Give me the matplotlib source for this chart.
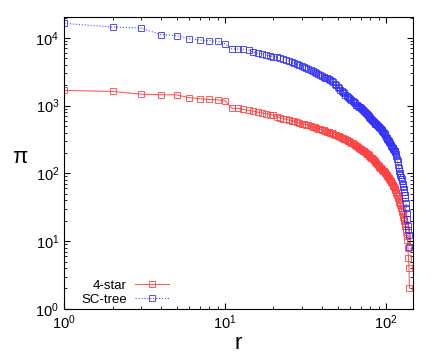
import matplotlib
matplotlib.use("Agg")
import matplotlib.pyplot as plt
import numpy as np

plt.rcParams['font.family'] = ['Liberation Sans', 'DejaVu Sans']
plt.rcParams['mathtext.fontset'] = 'custom'
plt.rcParams['mathtext.rm'] = 'Liberation Sans'
plt.rcParams['mathtext.it'] = 'Liberation Sans:italic'

star4 = [1680, 1620, 1480, 1450, 1440, 1310, 1260, 1240, 1220, 1190, 920, 910, 880, 850, 830,
         800, 780, 760, 740, 720, 690, 660,
         645, 630, 615, 600, 585, 570, 555,
         545, 535, 525, 515, 500, 490, 480, 470, 458, 445,
         437, 430, 423, 415, 405, 397, 390, 382, 375, 368, 360, 352, 345,
         338, 332, 325, 318, 311, 305, 298, 291, 284, 277, 270, 263, 257, 250, 243, 237, 230,
         226, 221, 216, 211, 206, 201, 196, 191, 186, 181, 176, 171, 166, 161, 156, 151, 146, 142, 138, 134, 130, 126, 122,
         119, 116, 113, 110, 107, 104, 101, 98, 95, 92, 89, 86, 83, 80, 77, 74, 71, 68, 65, 62, 60, 57,
         54, 51, 48, 46, 43, 41, 38, 36, 34, 31, 29, 27, 25, 23,
         21, 19.5, 18, 16.5, 15, 13.7, 12, 10.4, 7.9, 5.6, 4.0, 2.04]

sctree = [16400, 14500, 14000, 11200, 10800, 9700, 9300, 9100, 8900, 8200, 6900, 6800, 6800, 6700, 6100,
          5900, 5800, 5600, 5450, 5300,
          5150, 5000, 4850, 4700, 4550, 4400, 4250, 4120, 4000,
          3880, 3760, 3640, 3520, 3400, 3280, 3160, 3050, 2950, 2850,
          2750, 2680, 2600, 2530, 2460, 2400, 2300, 2200, 2100, 2000, 1900, 1800, 1700,
          1640, 1580, 1520, 1460, 1400, 1350, 1300, 1250, 1200, 1160, 1120, 1080, 1040, 1010, 980, 960, 940,
          915, 890, 865, 840, 815, 790, 765, 740, 715, 690, 665, 640, 620, 600, 580, 560, 545, 530, 515, 500, 490, 480, 470,
          455, 440, 425, 410, 395, 380, 365, 350, 338, 326, 314, 302, 290, 278, 266, 255, 245, 235, 228, 222, 216, 210,
          195, 180, 165, 150, 135, 120, 110, 102, 95, 88, 82, 76, 70, 64, 58, 53, 48, 43, 37, 31, 26, 21, 17, 14.5, 12.3, 8.2]

labels = ['4-star', 'SC-tree']

r_star = np.arange(1, len(star4) + 1)
r_sc = np.arange(1, len(sctree) + 1)

fig = plt.figure(figsize=(4.36, 3.53), dpi=100)
ax = fig.add_axes([0.147, 0.125, 0.800, 0.827])

ax.plot(r_star, star4, color='#ff4040', lw=0.8, marker='s', ms=4, mfc='none',
        mec='#ff4040', mew=0.7, alpha=0.85, label=labels[0])
ax.plot(r_sc, sctree, color='#3030ff', lw=0.8, ls=':', marker='s', ms=4, mfc='none',
        mec='#3030ff', mew=0.7, alpha=0.85, label=labels[1])

ax.set_xscale('log')
ax.set_yscale('log')
ax.set_xlim(1, 147)
ax.set_ylim(1, 20400)

ax.tick_params(which='both', direction='in', top=True, right=True, labelsize=10.5)
ax.tick_params(which='major', length=4)
ax.tick_params(which='minor', length=2)

ax.set_xlabel('r', fontsize=16, labelpad=0.5)
ax.set_ylabel('π', fontsize=16, rotation=0, va='center', ha='center')
ax.yaxis.set_label_coords(-0.126, 0.517)

leg = ax.legend(loc='lower left', bbox_to_anchor=(0.015, -0.03), frameon=False,
                markerfirst=False, fontsize=9.5, handlelength=2.6,
                handletextpad=0.6, labelspacing=0.15)

fig.savefig('out.png', dpi=100)
